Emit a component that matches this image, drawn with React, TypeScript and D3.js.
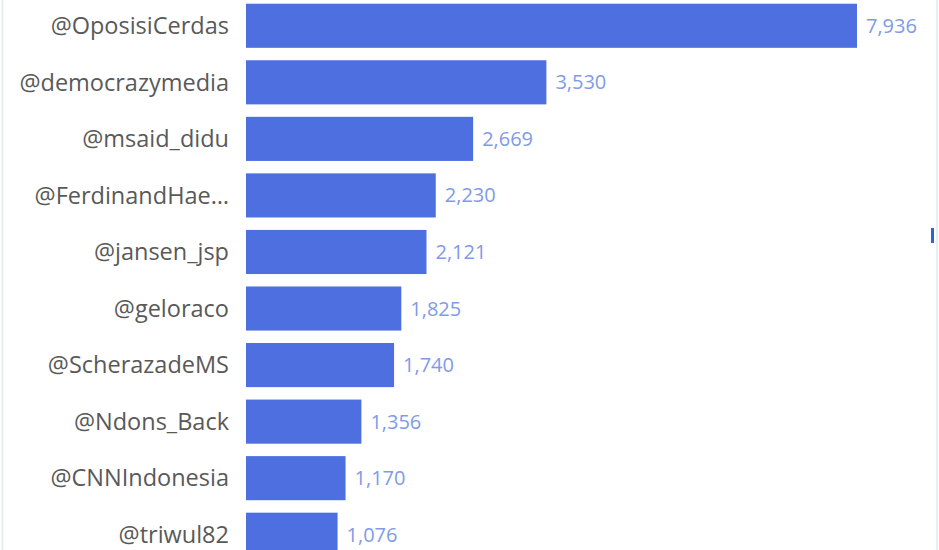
import React from "react";
import * as d3 from "d3";

const accounts = [
  "@OposisiCerdas",
  "@democrazymedia",
  "@msaid_didu",
  "@FerdinandHae…",
  "@jansen_jsp",
  "@geloraco",
  "@ScherazadeMS",
  "@Ndons_Back",
  "@CNNIndonesia",
  "@triwul82",
];
const counts = [7936, 3530, 2669, 2230, 2121, 1825, 1740, 1356, 1170, 1076];

const W = 939;
const H = 550;

export default function App() {
  const x = d3.scaleLinear().domain([0, 7180]).range([246, 857]).clamp(true);
  const y = d3
    .scaleBand<string>()
    .domain(accounts)
    .range([-2.5, 563])
    .paddingInner(0.22)
    .paddingOuter(0.11);
  const fmt = d3.format(",");
  return (
    <svg
      width={W}
      height={H}
      style={{ position: "absolute", left: 0, top: 0, background: "#fff" }}
    >
      <line x1={2.5} x2={2.5} y1={0} y2={H} stroke="#e9eef6" strokeWidth={2} />
      <line x1={937} x2={937} y1={0} y2={H} stroke="#e9eef6" strokeWidth={2} />
      <rect x={931} y={228} width={3} height={15} fill="#2f63d9" />
      {accounts.map((a, i) => {
        const yy = y(a)!;
        const bw = y.bandwidth();
        const xe = x(counts[i]);
        return (
          <g key={a}>
            <rect x={x(0)} y={yy} width={xe - x(0)} height={bw} fill="#4e6fe0" />
            <text
              x={229}
              y={yy + bw / 2}
              dy="0.35em"
              textAnchor="end"
              fontFamily="'Open Sans', sans-serif"
              fontSize={23.5}
              fill="#595959"
            >
              {a}
            </text>
            <text
              x={xe + 9}
              y={yy + bw / 2}
              dy="0.35em"
              fontFamily="'Open Sans', sans-serif"
              fontSize={20}
              fill="#819ae8"
            >
              {fmt(counts[i])}
            </text>
          </g>
        );
      })}
    </svg>
  );
}
